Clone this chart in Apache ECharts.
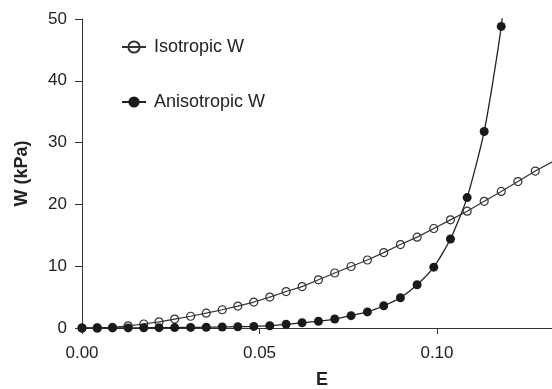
<!DOCTYPE html>
<html>
<head>
<meta charset="utf-8">
<script src="https://cdn.jsdelivr.net/npm/echarts@6/dist/echarts.min.js"></script>
<style>
  html, body { margin: 0; padding: 0; background: #fff; }
  #chart { width: 552px; height: 389px; }
</style>
</head>
<body>
<div id="chart"></div>
<script>
const strainE = [
  0, 0.0043, 0.0086, 0.0130, 0.0174, 0.0217, 0.0261, 0.0306, 0.0350, 0.0395,
  0.0439, 0.0484, 0.0529, 0.0575, 0.0620, 0.0666, 0.0712, 0.0758, 0.0804, 0.0850,
  0.0897, 0.0944, 0.0991, 0.1038, 0.1085, 0.1133, 0.1181, 0.1228, 0.1277, 0.1325
];
const isoW = [
  0, 0.02, 0.1, 0.35, 0.65, 1.0, 1.45, 1.9, 2.4, 2.95,
  3.55, 4.2, 5.0, 5.9, 6.7, 7.8, 8.9, 9.95, 11.0, 12.2,
  13.5, 14.7, 16.1, 17.5, 18.9, 20.5, 22.1, 23.7, 25.4, 26.9
];
const anisoW = [
  0, 0, 0.01, 0.02, 0.03, 0.05, 0.07, 0.1, 0.13, 0.17,
  0.21, 0.26, 0.37, 0.6, 0.85, 1.1, 1.45, 2.0, 2.6, 3.6,
  4.9, 7.0, 9.85, 14.4, 21.1, 31.8, 48.8
];
// the fitted anisotropic curve keeps rising past the top of the axis
const anisoCurveTop = [0.1228, 75];
const xTicks = [0, 0.05, 0.1];

const font = '"Liberation Sans", Arial, sans-serif';
const ink = "#222";

const isoData = strainE.map((e, i) => [e, isoW[i]]);
const anisoData = anisoW.map((w, i) => [strainE[i], w]);
anisoData.push({ value: anisoCurveTop, symbol: "none" });

const chart = echarts.init(document.getElementById("chart"));
chart.setOption({
  animation: false,
  legend: {
    orient: "vertical",
    left: 121,
    top: 38,
    padding: 0,
    itemWidth: 24,
    itemHeight: 14,
    itemGap: 37,
    textStyle: { fontFamily: font, fontSize: 18, lineHeight: 18, color: ink, padding: [0, 0, 0, 3] },
    data: ["Isotropic W", "Anisotropic W"],
  },
  grid: { left: 82, right: 0, top: 19, bottom: 61, outerBoundsMode: "none", containLabel: false },
  xAxis: {
    type: "value",
    min: 0,
    max: 0.1324,
    name: "E",
    nameLocation: "middle",
    nameGap: 43,
    nameTextStyle: { fontFamily: font, fontSize: 18, fontWeight: "bold", color: ink, padding: [0, 0, 0, 10] },
    axisLine: { lineStyle: { color: "#333", width: 1 } },
    axisTick: { show: true, length: 6, lineStyle: { color: "#333" }, customValues: xTicks },
    axisLabel: {
      margin: 17,
      fontFamily: font,
      fontSize: 17,
      color: ink,
      customValues: xTicks,
      formatter: (v) => v.toFixed(2),
    },
    splitLine: { show: false },
  },
  yAxis: {
    type: "value",
    min: 0,
    max: 50,
    interval: 10,
    name: "W (kPa)",
    nameLocation: "middle",
    nameGap: 51,
    nameTextStyle: { fontFamily: font, fontSize: 18, fontWeight: "bold", color: ink },
    axisLine: { show: true, lineStyle: { color: "#333", width: 1 } },
    axisTick: { show: true, length: 7, lineStyle: { color: "#333" } },
    axisLabel: { margin: 15, fontFamily: font, fontSize: 17, color: ink },
    splitLine: { show: false },
  },
  series: [
    {
      name: "Isotropic W",
      type: "line",
      data: isoData,
      symbol: "circle",
      symbolSize: 8,
      lineStyle: { color: "#333", width: 1.2 },
      itemStyle: { color: "rgba(255,255,255,0)", borderColor: "#333", borderWidth: 1.2 },
    },
    {
      name: "Anisotropic W",
      type: "line",
      data: anisoData,
      symbol: "circle",
      symbolSize: 9,
      smooth: 0.2,
      clip: true,
      lineStyle: { color: "#222", width: 1.3 },
      itemStyle: { color: "#1a1a1a", borderWidth: 0 },
    },
  ],
});
</script>
</body>
</html>
